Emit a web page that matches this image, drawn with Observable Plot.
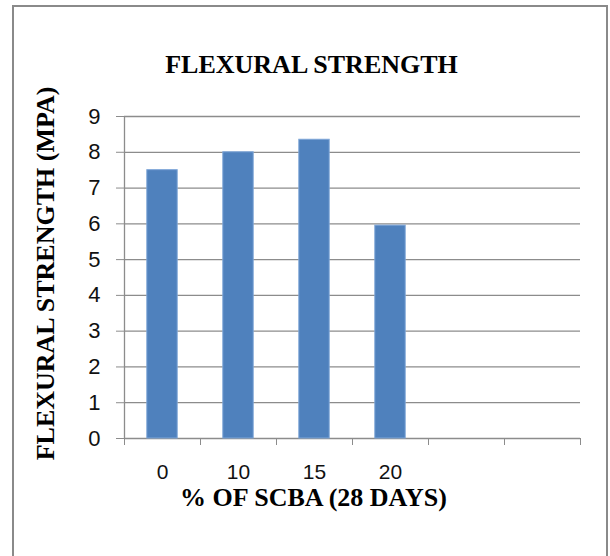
<!DOCTYPE html>
<html>
<head>
<meta charset="utf-8">
<script src="https://cdn.jsdelivr.net/npm/d3@7"></script>
<script src="https://cdn.jsdelivr.net/npm/@observablehq/plot@0.6"></script>
<style>
  html, body { margin: 0; padding: 0; background: #fff; }
  #wrap { position: relative; width: 610px; height: 556px; overflow: hidden; }
  #border { position: absolute; left: 12px; top: 5px; width: 592px; height: 600px;
            border: 2px solid #8a8a8a; border-bottom: none; pointer-events: none; }
</style>
</head>
<body>
<div id="wrap"><div id="border"></div></div>
<script>
const title = "FLEXURAL STRENGTH";
const xTitle = "% OF SCBA (28 DAYS)";
const yTitle = "FLEXURAL STRENGTH (MPA)";
const categories = ["0", "10", "15", "20", "", ""];
const values = [7.5, 8.0, 8.35, 5.95];
const yTicks = [0, 1, 2, 3, 4, 5, 6, 7, 8, 9];

const bars = values.map((v, i) => ({i, label: categories[i], v}));
const slotEdges = d3.range(0, categories.length + 1);
const slotCenters = categories.map((c, i) => i + 0.5);

const grey = "#8c8c8c";
const sans = "'Liberation Sans', Arial, sans-serif";
const serif = "'Liberation Serif', 'Times New Roman', serif";

const chart = Plot.plot({
  width: 610,
  height: 556,
  marginLeft: 124,
  marginRight: 30,
  marginTop: 116,
  marginBottom: 118,
  style: {background: "transparent", overflow: "visible"},
  x: {type: "linear", domain: [0, categories.length], axis: null},
  y: {domain: [0, 9], axis: null},
  marks: [
    Plot.ruleY(yTicks, {stroke: grey, strokeWidth: 1.3}),
    Plot.ruleX([0], {stroke: grey, strokeWidth: 1.3}),
    Plot.axisY({ticks: yTicks, tickSize: 8, tickPadding: 16, stroke: grey, fill: "#111",
                fontSize: 22, fontFamily: sans, label: null}),
    Plot.axisX({ticks: slotEdges, tickSize: 7, tickFormat: () => "", stroke: grey, label: null}),
    Plot.axisX({ticks: slotCenters, tickSize: 0, tickPadding: 26,
                tickFormat: d => categories[Math.floor(d)], fill: "#111",
                fontSize: 21, fontFamily: sans, label: null}),
    Plot.rectY(bars, {x1: d => d.i + 0.3, x2: d => d.i + 0.7, y: "v",
                      fill: "#4f81bd", stroke: "#7ea6d8", strokeWidth: 1}),
    Plot.text([title], {text: d => d, frameAnchor: "top", textAnchor: "middle", lineAnchor: "middle",
                        dx: -41, dy: -52,
                        fontSize: 26, fontWeight: "bold", fontFamily: serif, fill: "#000"}),
    Plot.text([xTitle], {text: d => d, frameAnchor: "bottom", textAnchor: "middle", lineAnchor: "middle",
                         dx: -39, dy: 59,
                         fontSize: 26, fontWeight: "bold", fontFamily: serif, fill: "#000"}),
    Plot.text([yTitle], {text: d => d, frameAnchor: "left", textAnchor: "middle", lineAnchor: "middle",
                         dx: -79, dy: -4, rotate: -90,
                         fontSize: 26, fontWeight: "bold", fontFamily: serif, fill: "#000"})
  ]
});
document.getElementById("wrap").prepend(chart);
chart.style.position = "absolute";
chart.style.left = "0";
chart.style.top = "0";
</script>
</body>
</html>
